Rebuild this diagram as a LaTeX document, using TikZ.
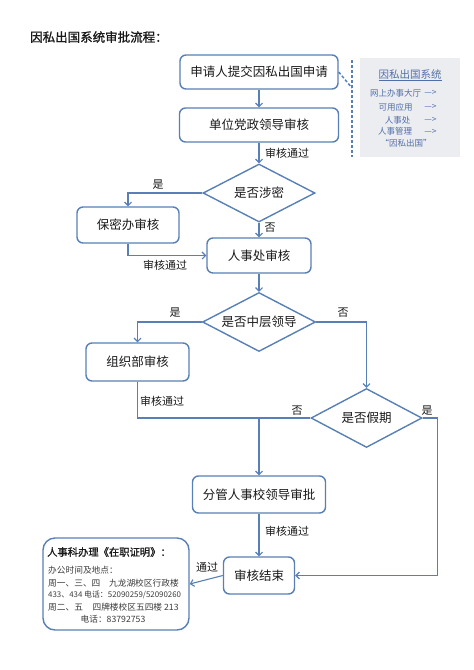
\documentclass[tikz,border=0pt]{standalone}
\usepackage{fontspec}
\setmainfont{Noto Sans CJK SC}
\newfontfamily\cjkb[FakeBold=1.2]{Noto Sans CJK SC}
\usetikzlibrary{shapes.geometric,arrows.meta}
\definecolor{lineblue}{RGB}{88,128,182}
\definecolor{sysblue}{RGB}{80,110,168}
\definecolor{sysgray}{RGB}{236,237,240}
\definecolor{txt}{RGB}{25,25,25}
\definecolor{txtg}{RGB}{60,60,60}
\begin{document}
\begin{tikzpicture}[x=1pt,y=-1pt,
  box/.style={draw=lineblue,line width=1.4pt,rounded corners=6pt,fill=white,text=txt,inner sep=0pt,font=\fontsize{12.5}{14}\selectfont},
  dia/.style={draw=lineblue,line width=1.4pt,diamond,shape aspect=2,inner sep=0pt,fill=white,text=txt,font=\fontsize{12.5}{14}\selectfont},
  arr/.style={draw=lineblue,line width=1.1pt,-{Straight Barb[length=3.5pt,width=7pt]}},
  ln/.style={draw=lineblue,line width=1.1pt},
  lab/.style={text=txt,font=\fontsize{11}{12}\selectfont,inner sep=0pt},
  sys/.style={text=sysblue,font=\fontsize{8.5}{10}\selectfont,inner sep=0pt},
  info/.style={text=txtg,font=\fontsize{8.7}{10}\selectfont,inner sep=0pt,anchor=west}]
\useasboundingbox[fill=white] (0,0) rectangle (474,670);

% title
\node[anchor=west,inner sep=0pt,text=txt,font=\cjkb\fontsize{12.5}{14}\selectfont] (title) at (30,37) {因私出国系统审批流程：};

% boxes
\node[box,minimum width=158pt,minimum height=34pt] (b1) at (259,72) {申请人提交因私出国申请};
\node[box,minimum width=159pt,minimum height=34pt] (b2) at (259,125) {单位党政领导审核};
\node[dia,minimum width=112pt,minimum height=58pt] (d1) at (259,193) {是否涉密};
\node[box,minimum width=102pt,minimum height=36pt] (bm) at (128,225) {保密办审核};
\node[box,minimum width=104pt,minimum height=35pt] (rs) at (259,255.5) {人事处审核};
\node[dia,minimum width=113pt,minimum height=59pt] (d2) at (259,322) {是否中层领导};
\node[box,minimum width=103pt,minimum height=38pt] (zz) at (137.5,362) {组织部审核};
\node[dia,minimum width=111pt,minimum height=59pt] (d3) at (366.5,418) {是否假期};
\node[box,minimum width=133pt,minimum height=37pt] (fg) at (259,494.5) {分管人事校领导审批};
\node[box,minimum width=71pt,minimum height=37pt] (end) at (259,575.5) {审核结束};

% system info box
\node[fill=sysgray,minimum width=100pt,minimum height=99pt,inner sep=0pt] (sys) at (410,107.5) {};
\node[sys,font=\fontsize{10.5}{12}\selectfont] (s0) at (410,75) {\underline{因私出国系统}};
\node[sys] (s1) at (395.5,93) {网上办事大厅};
\node[sys] (s2) at (395.5,107) {可用应用};
\node[sys] (s3) at (397.5,120) {人事处};
\node[sys] (s4) at (395,131.5) {人事管理};
\node[sys] (s5) at (406,143.5) {“因私出国”};
\foreach \y/\n in {93/a1,107/a2,120/a3,131.5/a4}
  \node[sys] (\n) at (430.5,\y) {—>};

% callout dashed line
\coordinate (cB) at (352,88);
\coordinate (cT) at (352,60);
\coordinate (cD) at (352,157);
\draw[draw=lineblue,line width=1.5pt,dash pattern=on 3pt off 2pt] (b1.east) -- (cB);
\draw[draw=lineblue,line width=1.5pt,dash pattern=on 3pt off 2pt] (cT) -- (cD);

% info box
\node[draw=lineblue,line width=1.4pt,rounded corners=12pt,minimum width=146pt,minimum height=92pt,inner sep=0pt] (ib) at (116,584) {};
\node[anchor=west,inner sep=0pt,text=txt,font=\cjkb\fontsize{10.3}{12}\selectfont] (i0) at (47,552) {人事科办理《在职证明》：};
\node[info] (i1) at (48,570) {办公时间及地点：};
\node[info] (i2) at (48,583) {周一、三、四　九龙湖校区行政楼};
\node[info,font=\fontsize{7.9}{10}\selectfont] (i3) at (48,595) {433、434 电话：52090259/52090260};
\node[info] (i4) at (48,607) {周二、五\hspace{1.1em}四牌楼校区五四楼 213};
\node[info,anchor=center] (i5) at (113,619) {电话：83792753};

% connectors
\draw[arr] (b1) -- (b2);
\draw[arr] (b2) -- (d1);
\draw[arr] (d1.west) -| (bm.north);
\draw[arr] (d1) -- (rs);
\draw[arr] (bm.south) |- (rs.west);
\draw[arr] (rs) -- (d2);
\draw[arr] (d2.west) -| (zz.north);
\draw[arr] (d2.east) -| (d3.north);
\draw[ln] (zz.south) |- (d3.west);
\coordinate (j) at (259,418);
\draw[arr] (j) -- (fg.north);
\draw[arr] (fg) -- (end);
\draw[arr] (d3.east) -- ++(15,0) |- (end.east);
\draw[arr] (end.west) -- (ib.east);

% labels
\node[lab] (l1) at (287,153) {审核通过};
\node[lab] (l2) at (158,185) {是};
\node[lab] (l3) at (270,228) {否};
\node[lab] (l4) at (165,265) {审核通过};
\node[lab] (l5) at (175,313) {是};
\node[lab] (l6) at (343,313) {否};
\node[lab] (l7) at (162,401) {审核通过};
\node[lab] (l8) at (297,411) {否};
\node[lab] (l9) at (427,411) {是};
\node[lab] (l10) at (287,531) {审核通过};
\node[lab] (l11) at (207,567) {通过};
\end{tikzpicture}
\end{document}
